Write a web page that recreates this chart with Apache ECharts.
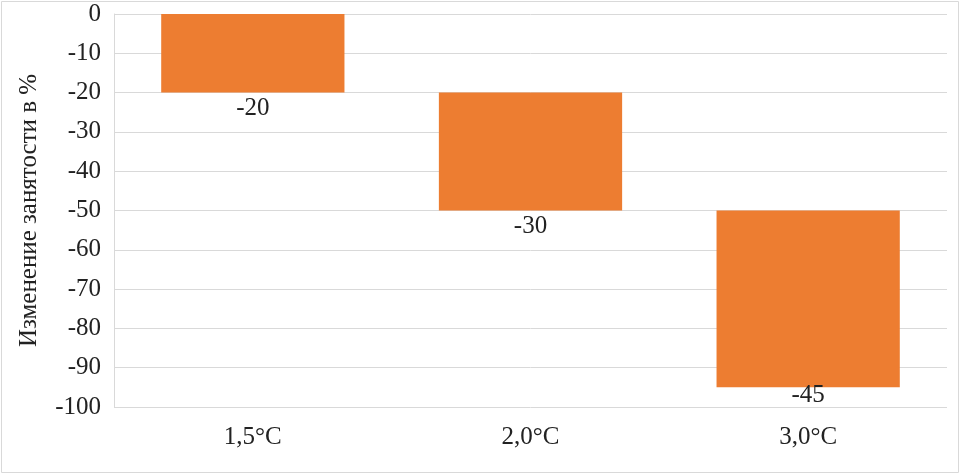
<!DOCTYPE html>
<html><head><meta charset="utf-8">
<script src="https://cdn.jsdelivr.net/npm/echarts@6/dist/echarts.min.js"></script>
<style>html,body{margin:0;padding:0;background:#fff}#c{width:961px;height:474px}</style>
</head><body><div id="c"></div>
<script>
const categories = ['1,5°C', '2,0°C', '3,0°C'];
const changes = [-20, -30, -45];
const yTicks = [0, -10, -20, -30, -40, -50, -60, -70, -80, -90, -100];
const yAxisName = 'Изменение занятости в %';

// base of each waterfall step = cumulative sum of previous changes
const bases = [];
let acc = 0;
for (const v of changes) { bases.push(acc); acc += v; }

const font = "'Liberation Serif', 'Times New Roman', serif";
const chart = echarts.init(document.getElementById('c'));
chart.setOption({
  animation: false,
  graphic: [{ type: 'rect', shape: { x: 1.5, y: 1.5, width: 957, height: 471 },
    style: { fill: 'none', stroke: '#d9d9d9', lineWidth: 1 }, silent: true }],
  grid: { left: 114, right: 14, top: 14, bottom: 67, containLabel: false },
  xAxis: {
    type: 'category', data: categories,
    axisLine: { show: false }, axisTick: { show: false },
    axisLabel: { color: '#222', fontFamily: font, fontSize: 25, margin: 18 }
  },
  yAxis: {
    type: 'value', min: -100, max: 0, interval: 10,
    name: yAxisName, nameLocation: 'middle', nameGap: 72, nameRotate: 90,
    nameTextStyle: { color: '#222', fontFamily: font, fontSize: 25 },
    axisLine: { show: true, lineStyle: { color: '#d9d9d9' } }, axisTick: { show: false },
    axisLabel: { color: '#222', fontFamily: font, fontSize: 25, margin: 13,
      formatter: v => yTicks.includes(v) ? String(v) : '' },
    splitLine: { lineStyle: { color: '#d9d9d9', width: 1 } }
  },
  series: [
    { type: 'bar', stack: 'w', data: bases, barWidth: '66%',
      itemStyle: { color: 'transparent' }, silent: true },
    { type: 'bar', stack: 'w', barWidth: '66%',
      data: changes.map((v, i) => ({ value: v,
        label: { distance: i === changes.length - 1 ? -4 : 3 } })),
      itemStyle: { color: '#ED7D31' },
      label: { show: true, position: 'bottom', color: '#222', fontFamily: font, fontSize: 25 } }
  ]
});
</script></body></html>
